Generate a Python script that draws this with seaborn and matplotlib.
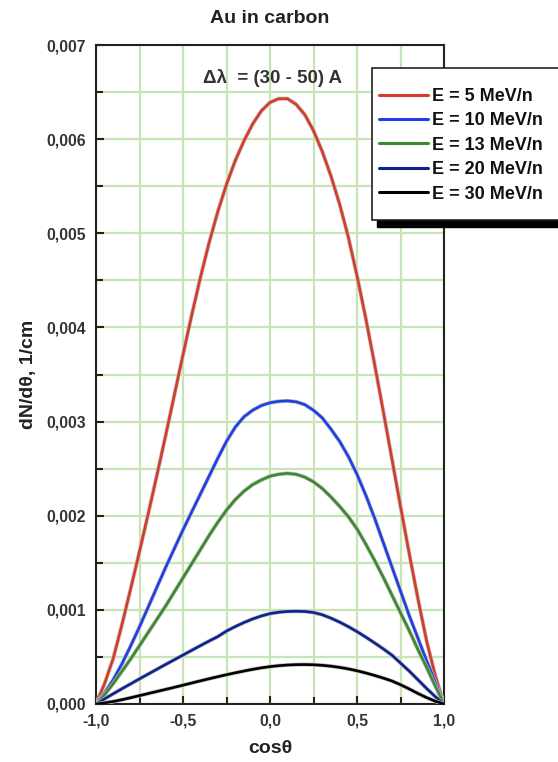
import numpy as np
import pandas as pd
import matplotlib
matplotlib.use("Agg")
import matplotlib.pyplot as plt
import matplotlib.patheffects as pe
from matplotlib.patches import Rectangle
from matplotlib.ticker import MultipleLocator, FuncFormatter
import seaborn as sns

# ---- data ----
cos_theta = [-1.00, -0.95, -0.90, -0.85, -0.80, -0.75, -0.70, -0.65, -0.60, -0.55, -0.50,
             -0.45, -0.40, -0.35, -0.30, -0.25, -0.20, -0.15, -0.10, -0.05, 0.00,
             0.05, 0.10, 0.15, 0.20, 0.25, 0.30, 0.35, 0.40, 0.45, 0.50,
             0.55, 0.60, 0.65, 0.70, 0.75, 0.80, 0.85, 0.90, 0.95, 1.00]
e5 = [0.0, 0.00022, 0.00049, 0.00085, 0.00123, 0.00162, 0.00202, 0.00243, 0.00285, 0.00328, 0.00371,
      0.00413, 0.00453, 0.00490, 0.00523, 0.00552, 0.00577, 0.00598, 0.00616, 0.00630, 0.00639,
      0.00643, 0.00643, 0.00637, 0.00626, 0.00609, 0.00587, 0.00561, 0.00531, 0.00496, 0.00455,
      0.00410, 0.00362, 0.00312, 0.00261, 0.00210, 0.00160, 0.00112, 0.00067, 0.00030, 0.0]
e10 = [0.0, 0.00012, 0.00026, 0.00043, 0.00062, 0.00082, 0.00103, 0.00124, 0.00145, 0.00165, 0.00185,
       0.00204, 0.00223, 0.00242, 0.00261, 0.00279, 0.00294, 0.00305, 0.00312, 0.00317, 0.00320,
       0.003215, 0.00322, 0.00321, 0.00318, 0.00312, 0.00304, 0.00292, 0.00279, 0.00263, 0.00244,
       0.00222, 0.00198, 0.00172, 0.00146, 0.00120, 0.00094, 0.00070, 0.00046, 0.00023, 0.0]
e13 = [0.0, 0.00010, 0.00022, 0.00035, 0.00048, 0.00062, 0.00076, 0.00090, 0.00104, 0.00119, 0.00134,
       0.00149, 0.00164, 0.00179, 0.00193, 0.00206, 0.00217, 0.00226, 0.00233, 0.00238, 0.00242,
       0.00244, 0.00245, 0.00244, 0.00241, 0.00236, 0.00229, 0.00220, 0.00210, 0.00199, 0.00186,
       0.00170, 0.00153, 0.00135, 0.00116, 0.00097, 0.00078, 0.00058, 0.00039, 0.00019, 0.0]
e20 = [0.0, 0.000055, 0.00011, 0.000163, 0.000215, 0.000267, 0.000318, 0.000369, 0.00042, 0.00047, 0.00052,
       0.00057, 0.00062, 0.000669, 0.000716, 0.000775, 0.000822, 0.000865, 0.000903, 0.000935, 0.00096,
       0.000975, 0.000983, 0.000985, 0.000983, 0.000972, 0.000948, 0.000912, 0.00087, 0.000822, 0.000769,
       0.000711, 0.00065, 0.000587, 0.00052, 0.000435, 0.00035, 0.000258, 0.000165, 0.000078, 0.0]
e30 = [0.0, 0.000012, 0.000027, 0.000046, 0.000067, 0.000089, 0.000111, 0.000133, 0.000155, 0.000177, 0.0002,
       0.000223, 0.000246, 0.000268, 0.00029, 0.000311, 0.000331, 0.00035, 0.000368, 0.000384, 0.000397,
       0.000407, 0.000414, 0.000418, 0.000419, 0.000417, 0.000411, 0.000402, 0.000389, 0.000373, 0.000353,
       0.00033, 0.000304, 0.000276, 0.000245, 0.000205, 0.00016, 0.000112, 0.000068, 0.00003, 0.0]
series_labels = ["E = 5 MeV/n", "E = 10 MeV/n", "E = 13 MeV/n", "E = 20 MeV/n", "E = 30 MeV/n"]
series_values = [e5, e10, e13, e20, e30]
colors = ["#d63c2a", "#1f3fe6", "#3b8b2e", "#0d2390", "#000000"]

y_ticks = [0.000, 0.001, 0.002, 0.003, 0.004, 0.005, 0.006, 0.007]
x_ticks = [-1.0, -0.5, 0.0, 0.5, 1.0]

rows = []
for lab, vals in zip(series_labels, series_values):
    for x, y in zip(cos_theta, vals):
        rows.append({"cos": x, "val": y, "series": lab})
df = pd.DataFrame(rows)

sns.set_theme(style="white")
plt.rcParams["font.family"] = ["Liberation Sans", "DejaVu Sans"]
plt.rcParams["font.weight"] = "bold"

W, H = 558, 762
fig = plt.figure(figsize=(W / 100, H / 100), dpi=100)
ax = fig.add_axes([96 / W, 58 / H, 348 / W, 659 / H])

sns.lineplot(data=df, x="cos", y="val", hue="series", hue_order=series_labels,
             palette=colors, sort=False, estimator=None, linewidth=1.9, ax=ax,
             legend=False)
for ln in ax.lines:
    ln.set_path_effects([pe.Stroke(linewidth=2.9, foreground="#bdbdbd"), pe.Normal()])
    ln.set_zorder(3)
    ln.set_solid_joinstyle("round")

ax.set_xlim(-1.0, 1.0)
ax.set_ylim(0.0, 0.007)
ax.xaxis.set_minor_locator(MultipleLocator(0.25))
ax.yaxis.set_minor_locator(MultipleLocator(0.0005))
ax.set_xticks(x_ticks)
ax.set_yticks(y_ticks)
ax.xaxis.set_major_formatter(FuncFormatter(lambda v, p: f"{v:.1f}".replace(".", ",").replace("-0,0", "0,0")))
ax.yaxis.set_major_formatter(FuncFormatter(lambda v, p: f"{v:.3f}".replace(".", ",")))

ax.grid(True, which="both", color="#c6e4b4", linewidth=1.6, zorder=0)
ax.set_axisbelow(True)
ax.tick_params(axis="both", which="major", direction="in", length=6, width=1.5,
               color="#222222", labelsize=11.3, labelcolor="#333333",
               bottom=True, left=True, top=False, right=False, pad=7)
ax.tick_params(axis="both", which="minor", direction="in", length=5, width=1.5,
               color="#222222", bottom=True, left=True, top=False, right=False)
for lbl in ax.get_xticklabels() + ax.get_yticklabels():
    lbl.set_fontweight("bold")
for side in ["left", "bottom", "top", "right"]:
    ax.spines[side].set_visible(True)
    ax.spines[side].set_color("#222222")
    ax.spines[side].set_linewidth(1.5)

ax.set_xlabel("cosθ", fontsize=14, fontweight="bold", color="#222222", labelpad=8)
ax.set_ylabel("dN/dθ, 1/cm", fontsize=14, fontweight="bold", color="#222222", labelpad=7)
ax.set_title("Au in carbon", fontsize=14, fontweight="bold", color="#222222", pad=16)

ax.text(-0.385, 0.00665, "Δλ  = (30 - 50) A", fontsize=13.5, fontweight="bold",
        color="#333333", ha="left", va="center", zorder=4)

# legend frame with a solid black drop shadow
box_l, box_t, box_r, box_b = 372, 68, 562, 220
fig.add_artist(Rectangle(((box_l + 5) / W, 1 - (box_b + 7) / H), (box_r - box_l) / W,
                         (box_b - box_t) / H, transform=fig.transFigure,
                         facecolor="black", edgecolor="black", zorder=8))
fig.add_artist(Rectangle((box_l / W, 1 - box_b / H), (box_r - box_l) / W,
                         (box_b - box_t) / H, transform=fig.transFigure,
                         facecolor="white", edgecolor="#222222", linewidth=1.2, zorder=9))

handles = [plt.Line2D([], [], color=c, linewidth=2.2) for c in colors]
leg = fig.legend(handles, series_labels, loc="upper left",
                 bbox_to_anchor=(379 / W, 1 - 88 / H), bbox_transform=fig.transFigure,
                 fontsize=13, frameon=False, borderpad=0, labelspacing=0.41,
                 handlelength=2.7, handletextpad=0.22, borderaxespad=0)
for t in leg.get_texts():
    t.set_fontweight("bold")
    t.set_color("#111111")
leg.set_zorder(10)

fig.savefig("out.png", dpi=100)
